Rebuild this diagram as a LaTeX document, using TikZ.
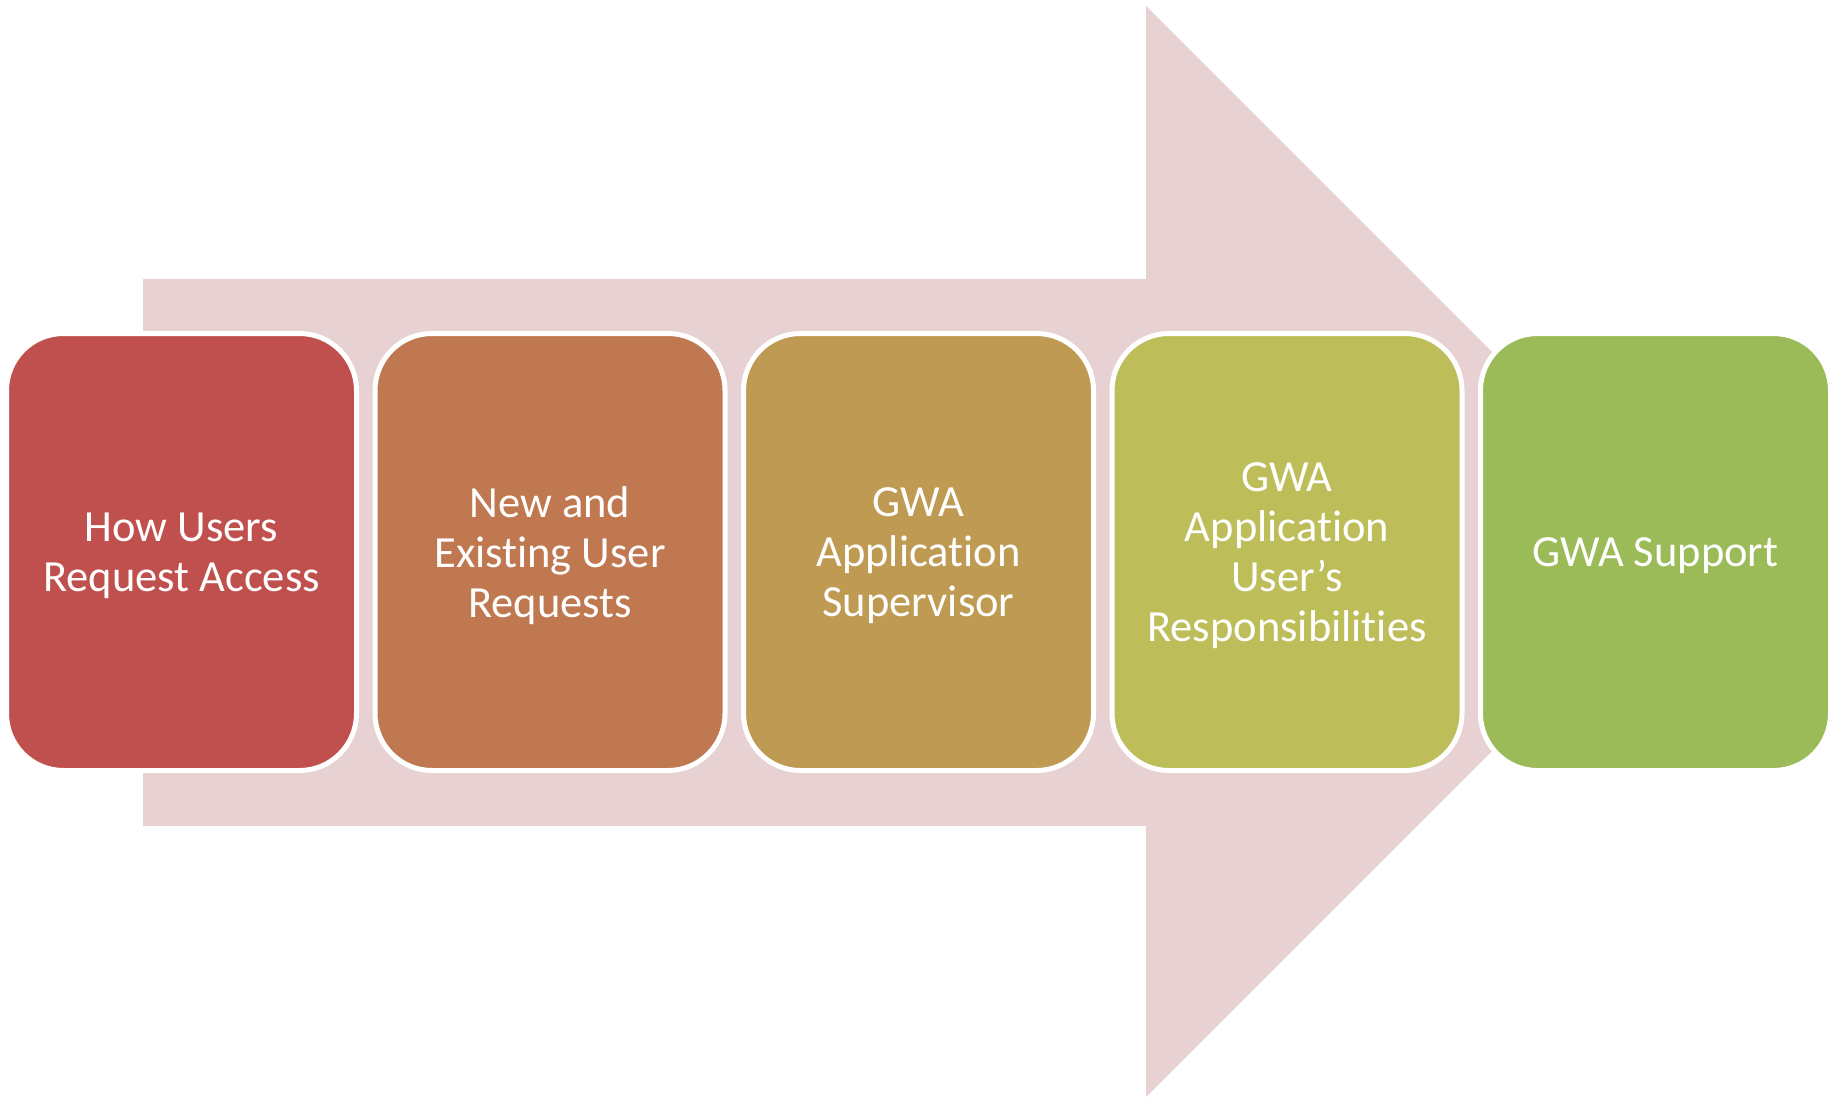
\documentclass[tikz,border=0pt]{standalone}
\usepackage{fontspec}
\setmainfont{Carlito}[RawFeature={-liga;-clig;-calt;-dlig;-rlig}]
\newcommand{\nolig}{\kern0pt{}}
\definecolor{arrowpink}{RGB}{232,209,210}
\definecolor{cA}{RGB}{192,80,77}
\definecolor{cB}{RGB}{191,120,80}
\definecolor{cC}{RGB}{190,154,83}
\definecolor{cD}{RGB}{189,189,89}
\definecolor{cE}{RGB}{155,187,89}
\tikzset{
  stepbox/.style={draw=white, line width=5pt, rounded corners=57pt,
    minimum width=350pt, minimum height=437pt, inner sep=0pt},
  steptext/.style={align=center, text=white, inner sep=0pt,
    font=\fontsize{44.5}{50}\selectfont}
}
\begin{document}
\begin{tikzpicture}[x=1pt,y=-1pt]
\useasboundingbox (0,0) rectangle (1837,1097);
\fill[arrowpink] (143,279) -- (1146,279) -- (1146,6) -- (1691.5,551.5)
  -- (1146,1097) -- (1146,826) -- (143,826) -- cycle;
\node[stepbox, fill=cA] (b1) at (181.5,552) {};
\node[stepbox, fill=cB] (b2) at (550,552) {};
\node[stepbox, fill=cC] (b3) at (918.5,552) {};
\node[stepbox, fill=cD] (b4) at (1287,552) {};
\node[stepbox, fill=cE] (b5) at (1655.5,552) {};
\node[steptext] (t1) at ([yshift=-3.5pt]b1.center) {How Users\\Request Access};
\node[steptext] (t2) at ([yshift=-3.5pt]b2.center) {New and\\Exist\nolig ing User\\Requests};
\node[steptext] (t3) at ([yshift=-3.5pt]b3.center) {GWA\\Applicat\nolig ion\\Supervisor};
\node[steptext] (t4) at ([yshift=-3.5pt]b4.center) {GWA\\Applicat\nolig ion\\User’s\\Responsibilit\nolig ies};
\node[steptext] (t5) at ([yshift=-3.5pt]b5.center) {GWA Support};
\end{tikzpicture}
\end{document}
